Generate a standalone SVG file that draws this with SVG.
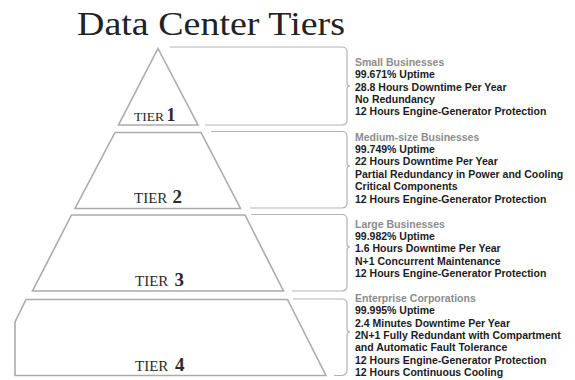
<svg xmlns="http://www.w3.org/2000/svg" width="575" height="380" viewBox="0 0 575 380">
<style>
.bg{fill:#ffffff}
.title{font-family:"Liberation Serif","Times New Roman",serif;font-size:34px;fill:#222222}
.shape{fill:none;stroke:#ababab;stroke-width:1.6;stroke-linejoin:miter}
.brace{fill:none;stroke:#b3b3b3;stroke-width:1.2}
.tier{font-family:"Liberation Serif","Times New Roman",serif;fill:#2a2a2a}
.tw{font-size:15px}
.tn{font-size:19px;font-weight:bold}
.info{font-family:"Liberation Sans",Arial,sans-serif;font-size:10.5px;font-weight:bold;fill:#1c1c1c}
.head{fill:#8c8c8c}
</style>
<rect class="bg" x="0" y="0" width="575" height="380"/>
<text class="title" x="77" y="34.5" textLength="268" lengthAdjust="spacingAndGlyphs">Data Center Tiers</text>

<g id="connectors">
<path class="brace" d="M170,47 H342 Q347,47 347,52 V83 Q347,86 350,86 Q347,86 347,89 V120 Q347,125 342,125 H205"/>
<path class="brace" d="M211,131.5 H342 Q347,131.5 347,136.5 V163 Q347,166 350,166 Q347,166 347,169 V203 Q347,208 342,208 H250"/>
<path class="brace" d="M251,214.5 H342 Q347,214.5 347,219.5 V244 Q347,247 350,247 Q347,247 347,250 V286 Q347,291 342,291 H292"/>
<path class="brace" d="M293,299 H342 Q347,299 347,304 V329 Q347,332 350,332 Q347,332 347,335 V370 Q347,375.5 341,375.5 H334"/>
</g>

<g id="tier1">
<polygon class="shape" points="158,48.5 198,125 118.5,125"/>
<text class="tier" x="134" y="121"><tspan class="tw" style="font-size:13.5px">TIER</tspan><tspan class="tn" x="166.5" style="font-size:18px">1</tspan></text>
</g>
<g id="tier2">
<polygon class="shape" points="115,132.5 201,132.5 240.5,208.5 75,208.5"/>
<text class="tier" x="134" y="203"><tspan class="tw">TIER</tspan><tspan class="tn" x="172.5">2</tspan></text>
</g>
<g id="tier3">
<polygon class="shape" points="71.5,215 245,215 283.5,291 32.5,291"/>
<text class="tier" x="135" y="286"><tspan class="tw">TIER</tspan><tspan class="tn" x="174.5">3</tspan></text>
</g>
<g id="tier4">
<polygon class="shape" points="26,299.5 287.5,299.5 326,375.5 15,375.5 15,322"/>
<text class="tier" x="135" y="371"><tspan class="tw">TIER</tspan><tspan class="tn" x="175">4</tspan></text>
</g>

<g id="info1">
<text class="info" x="355" y="66"><tspan class="head">Small Businesses</tspan><tspan x="355" y="78.3">99.671% Uptime</tspan><tspan x="355" y="90.5">28.8 Hours Downtime Per Year</tspan><tspan x="355" y="102.7">No Redundancy</tspan><tspan x="355" y="115">12 Hours Engine-Generator Protection</tspan></text>
</g>
<g id="info2">
<text class="info" x="355" y="140.5"><tspan class="head">Medium-size Businesses</tspan><tspan x="355" y="152.9">99.749% Uptime</tspan><tspan x="355" y="165.3">22 Hours Downtime Per Year</tspan><tspan x="355" y="177.7">Partial Redundancy in Power and Cooling</tspan><tspan x="355" y="190.1">Critical Components</tspan><tspan x="355" y="202.5">12 Hours Engine-Generator Protection</tspan></text>
</g>
<g id="info3">
<text class="info" x="355" y="227.5"><tspan class="head">Large Businesses</tspan><tspan x="355" y="239.9">99.982% Uptime</tspan><tspan x="355" y="252.3">1.6 Hours Downtime Per Year</tspan><tspan x="355" y="264.7">N+1 Concurrent Maintenance</tspan><tspan x="355" y="277.1">12 Hours Engine-Generator Protection</tspan></text>
</g>
<g id="info4">
<text class="info" x="355" y="301.7"><tspan class="head">Enterprise Corporations</tspan><tspan x="355" y="314.1">99.995% Uptime</tspan><tspan x="355" y="326.5">2.4 Minutes Downtime Per Year</tspan><tspan x="355" y="338.9">2N+1 Fully Redundant with Compartment</tspan><tspan x="355" y="351.3">and Automatic Fault Tolerance</tspan><tspan x="355" y="363.7">12 Hours Engine-Generator Protection</tspan><tspan x="355" y="376.1">12 Hours Continuous Cooling</tspan></text>
</g>
</svg>
